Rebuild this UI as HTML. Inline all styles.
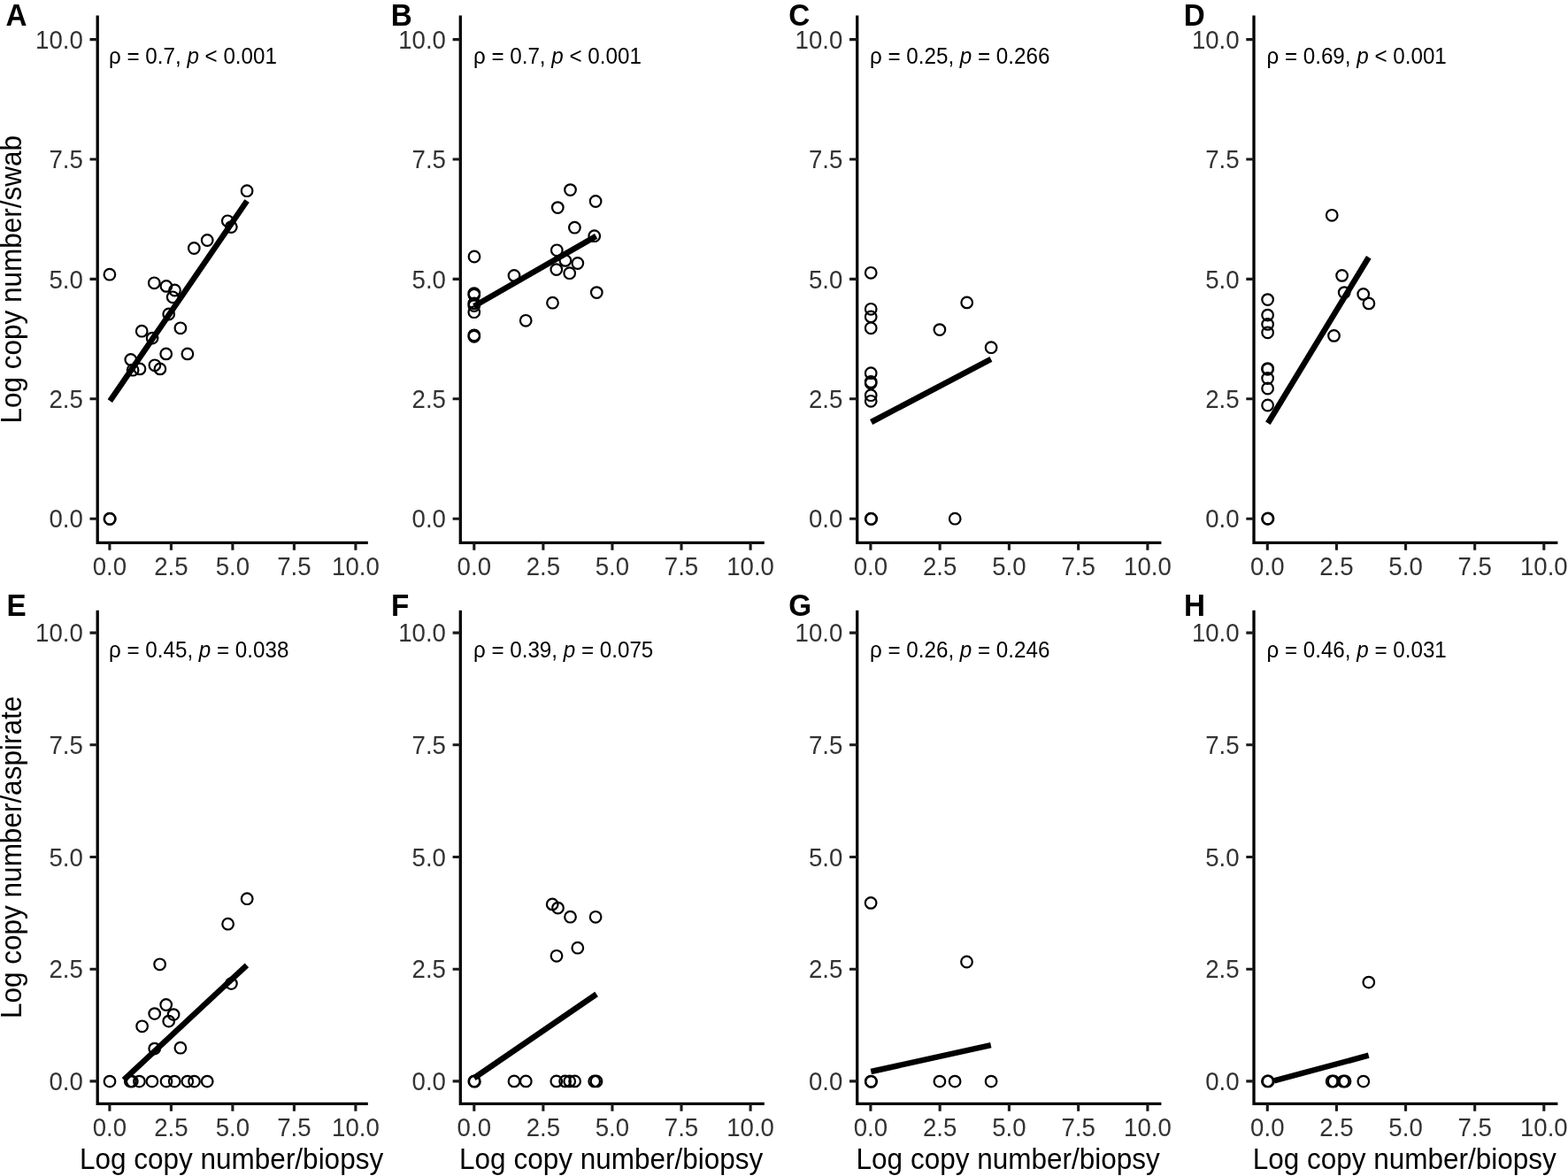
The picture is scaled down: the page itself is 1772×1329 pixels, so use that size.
<!DOCTYPE html>
<html><head><meta charset="utf-8"><title>Correlation scatter plots</title>
<style>html,body{margin:0;padding:0;background:#fff;}svg{display:block;}text{font-family:"Liberation Sans", Arial, Helvetica, sans-serif;fill:#000;}text.t{fill:#333;}</style></head><body>
<svg width="1772" height="1329" viewBox="0 0 1772 1329">
<rect width="1772" height="1329" fill="#fff"/>
<g><path d="M110.2 17.5V613.4H415.8" fill="none" stroke="#000" stroke-width="3.3" stroke-linecap="butt" stroke-linejoin="miter"/><path d="M101.5 586.2H110.2M123.9 613.4V621.8M101.5 450.8H110.2M193.4 613.4V621.8M101.5 315.4H110.2M262.9 613.4V621.8M101.5 180H110.2M332.4 613.4V621.8M101.5 44.6H110.2M401.9 613.4V621.8" stroke="#1a1a1a" stroke-width="3.1" fill="none"/><text transform="translate(93.8 596.48) scale(1 1.04)" font-size="27.6" text-anchor="end" class="t">0.0</text><text transform="translate(123.9 649.8) scale(1 1.04)" font-size="27.6" text-anchor="middle" class="t">0.0</text><text transform="translate(93.8 461.08) scale(1 1.04)" font-size="27.6" text-anchor="end" class="t">2.5</text><text transform="translate(193.4 649.8) scale(1 1.04)" font-size="27.6" text-anchor="middle" class="t">2.5</text><text transform="translate(93.8 325.68) scale(1 1.04)" font-size="27.6" text-anchor="end" class="t">5.0</text><text transform="translate(262.9 649.8) scale(1 1.04)" font-size="27.6" text-anchor="middle" class="t">5.0</text><text transform="translate(93.8 190.28) scale(1 1.04)" font-size="27.6" text-anchor="end" class="t">7.5</text><text transform="translate(332.4 649.8) scale(1 1.04)" font-size="27.6" text-anchor="middle" class="t">7.5</text><text transform="translate(93.8 54.88) scale(1 1.04)" font-size="27.6" text-anchor="end" class="t">10.0</text><text transform="translate(401.9 649.8) scale(1 1.04)" font-size="27.6" text-anchor="middle" class="t">10.0</text><g fill="none" stroke="#000" stroke-width="2.2"><circle cx="279.1" cy="215.7" r="6.3"/><circle cx="257.3" cy="249.8" r="6.3"/><circle cx="261.3" cy="256.6" r="6.3"/><circle cx="234.2" cy="271.5" r="6.3"/><circle cx="219.3" cy="280.5" r="6.3"/><circle cx="123.9" cy="310.2" r="6.3"/><circle cx="174.3" cy="319.8" r="6.3"/><circle cx="187.9" cy="323.4" r="6.3"/><circle cx="197.5" cy="328" r="6.3"/><circle cx="195.2" cy="335.8" r="6.3"/><circle cx="190.7" cy="355" r="6.3"/><circle cx="203.9" cy="370.8" r="6.3"/><circle cx="160.2" cy="374.2" r="6.3"/><circle cx="172.1" cy="382.1" r="6.3"/><circle cx="187.7" cy="399.9" r="6.3"/><circle cx="211.9" cy="399.9" r="6.3"/><circle cx="147.8" cy="406.4" r="6.3"/><circle cx="174.9" cy="412.8" r="6.3"/><circle cx="180.9" cy="416.9" r="6.3"/><circle cx="158" cy="416.9" r="6.3"/><circle cx="150.1" cy="418.2" r="6.3"/><circle cx="123.9" cy="586.2" r="6.3"/><circle cx="124.3" cy="586.5" r="6.3"/></g><path d="M124.3 453.2L279.1 227" stroke="#000" stroke-width="6.5" stroke-linecap="butt" fill="none"/><text transform="translate(123 72) scale(1 1.04)" font-size="24.2">ρ = 0.7, <tspan font-style="italic">p</tspan> &lt; 0.001</text><text transform="translate(6.6 28.9) scale(1 1.04)" font-size="33.2" font-weight="bold">A</text></g>
<g><path d="M520.3 17.5V613.4H863.8" fill="none" stroke="#000" stroke-width="3.3" stroke-linecap="butt" stroke-linejoin="miter"/><path d="M511.6 586.2H520.3M535.8 613.4V621.8M511.6 450.8H520.3M613.88 613.4V621.8M511.6 315.4H520.3M691.95 613.4V621.8M511.6 180H520.3M770.02 613.4V621.8M511.6 44.6H520.3M848.1 613.4V621.8" stroke="#1a1a1a" stroke-width="3.1" fill="none"/><text transform="translate(503.9 596.48) scale(1 1.04)" font-size="27.6" text-anchor="end" class="t">0.0</text><text transform="translate(535.8 649.8) scale(1 1.04)" font-size="27.6" text-anchor="middle" class="t">0.0</text><text transform="translate(503.9 461.08) scale(1 1.04)" font-size="27.6" text-anchor="end" class="t">2.5</text><text transform="translate(613.88 649.8) scale(1 1.04)" font-size="27.6" text-anchor="middle" class="t">2.5</text><text transform="translate(503.9 325.68) scale(1 1.04)" font-size="27.6" text-anchor="end" class="t">5.0</text><text transform="translate(691.95 649.8) scale(1 1.04)" font-size="27.6" text-anchor="middle" class="t">5.0</text><text transform="translate(503.9 190.28) scale(1 1.04)" font-size="27.6" text-anchor="end" class="t">7.5</text><text transform="translate(770.02 649.8) scale(1 1.04)" font-size="27.6" text-anchor="middle" class="t">7.5</text><text transform="translate(503.9 54.88) scale(1 1.04)" font-size="27.6" text-anchor="end" class="t">10.0</text><text transform="translate(848.1 649.8) scale(1 1.04)" font-size="27.6" text-anchor="middle" class="t">10.0</text><g fill="none" stroke="#000" stroke-width="2.2"><circle cx="644.5" cy="214.6" r="6.3"/><circle cx="673.1" cy="227.5" r="6.3"/><circle cx="630.3" cy="234.6" r="6.3"/><circle cx="649.4" cy="257.2" r="6.3"/><circle cx="671.7" cy="266.7" r="6.3"/><circle cx="536" cy="290" r="6.3"/><circle cx="629.3" cy="282.8" r="6.3"/><circle cx="638.9" cy="294.4" r="6.3"/><circle cx="652.8" cy="297.5" r="6.3"/><circle cx="628.8" cy="304.6" r="6.3"/><circle cx="643.7" cy="308.7" r="6.3"/><circle cx="581" cy="311.4" r="6.3"/><circle cx="674.3" cy="330.6" r="6.3"/><circle cx="624.5" cy="342.2" r="6.3"/><circle cx="594.2" cy="362.3" r="6.3"/><circle cx="535.8" cy="331.6" r="6.3"/><circle cx="535.8" cy="333.2" r="6.3"/><circle cx="535.8" cy="342.8" r="6.3"/><circle cx="535.8" cy="345.5" r="6.3"/><circle cx="535.8" cy="352.7" r="6.3"/><circle cx="535.8" cy="378.8" r="6.3"/><circle cx="535.8" cy="380.3" r="6.3"/></g><path d="M535.8 346L673.7 266.9" stroke="#000" stroke-width="6.5" stroke-linecap="butt" fill="none"/><text transform="translate(534.9 72) scale(1 1.04)" font-size="24.2">ρ = 0.7, <tspan font-style="italic">p</tspan> &lt; 0.001</text><text transform="translate(441.8 28.9) scale(1 1.04)" font-size="33.2" font-weight="bold">B</text></g>
<g><path d="M968.7 17.5V613.4H1312.4" fill="none" stroke="#000" stroke-width="3.3" stroke-linecap="butt" stroke-linejoin="miter"/><path d="M960 586.2H968.7M983.9 613.4V621.8M960 450.8H968.7M1062.15 613.4V621.8M960 315.4H968.7M1140.4 613.4V621.8M960 180H968.7M1218.65 613.4V621.8M960 44.6H968.7M1296.9 613.4V621.8" stroke="#1a1a1a" stroke-width="3.1" fill="none"/><text transform="translate(952.3 596.48) scale(1 1.04)" font-size="27.6" text-anchor="end" class="t">0.0</text><text transform="translate(983.9 649.8) scale(1 1.04)" font-size="27.6" text-anchor="middle" class="t">0.0</text><text transform="translate(952.3 461.08) scale(1 1.04)" font-size="27.6" text-anchor="end" class="t">2.5</text><text transform="translate(1062.15 649.8) scale(1 1.04)" font-size="27.6" text-anchor="middle" class="t">2.5</text><text transform="translate(952.3 325.68) scale(1 1.04)" font-size="27.6" text-anchor="end" class="t">5.0</text><text transform="translate(1140.4 649.8) scale(1 1.04)" font-size="27.6" text-anchor="middle" class="t">5.0</text><text transform="translate(952.3 190.28) scale(1 1.04)" font-size="27.6" text-anchor="end" class="t">7.5</text><text transform="translate(1218.65 649.8) scale(1 1.04)" font-size="27.6" text-anchor="middle" class="t">7.5</text><text transform="translate(952.3 54.88) scale(1 1.04)" font-size="27.6" text-anchor="end" class="t">10.0</text><text transform="translate(1296.9 649.8) scale(1 1.04)" font-size="27.6" text-anchor="middle" class="t">10.0</text><g fill="none" stroke="#000" stroke-width="2.2"><circle cx="984.2" cy="308.3" r="6.3"/><circle cx="984.2" cy="349.3" r="6.3"/><circle cx="984.2" cy="357.9" r="6.3"/><circle cx="984.2" cy="370.8" r="6.3"/><circle cx="1092.7" cy="341.9" r="6.3"/><circle cx="1061.9" cy="372.6" r="6.3"/><circle cx="1120.1" cy="392.7" r="6.3"/><circle cx="984.2" cy="421.7" r="6.3"/><circle cx="984.2" cy="431.5" r="6.3"/><circle cx="984.2" cy="433" r="6.3"/><circle cx="984.2" cy="446.7" r="6.3"/><circle cx="984.2" cy="453.3" r="6.3"/><circle cx="984.2" cy="586.2" r="6.3"/><circle cx="984.7" cy="586.5" r="6.3"/><circle cx="1079.2" cy="586.2" r="6.3"/></g><path d="M984.6 477L1119.9 405.8" stroke="#000" stroke-width="6.5" stroke-linecap="butt" fill="none"/><text transform="translate(983 72) scale(1 1.04)" font-size="24.2">ρ = 0.25, <tspan font-style="italic">p</tspan> = 0.266</text><text transform="translate(891.3 28.9) scale(1 1.04)" font-size="33.2" font-weight="bold">C</text></g>
<g><path d="M1417 17.5V613.4H1760.4" fill="none" stroke="#000" stroke-width="3.3" stroke-linecap="butt" stroke-linejoin="miter"/><path d="M1408.3 586.2H1417M1432.3 613.4V621.8M1408.3 450.8H1417M1510.42 613.4V621.8M1408.3 315.4H1417M1588.55 613.4V621.8M1408.3 180H1417M1666.67 613.4V621.8M1408.3 44.6H1417M1744.8 613.4V621.8" stroke="#1a1a1a" stroke-width="3.1" fill="none"/><text transform="translate(1400.6 596.48) scale(1 1.04)" font-size="27.6" text-anchor="end" class="t">0.0</text><text transform="translate(1432.3 649.8) scale(1 1.04)" font-size="27.6" text-anchor="middle" class="t">0.0</text><text transform="translate(1400.6 461.08) scale(1 1.04)" font-size="27.6" text-anchor="end" class="t">2.5</text><text transform="translate(1510.42 649.8) scale(1 1.04)" font-size="27.6" text-anchor="middle" class="t">2.5</text><text transform="translate(1400.6 325.68) scale(1 1.04)" font-size="27.6" text-anchor="end" class="t">5.0</text><text transform="translate(1588.55 649.8) scale(1 1.04)" font-size="27.6" text-anchor="middle" class="t">5.0</text><text transform="translate(1400.6 190.28) scale(1 1.04)" font-size="27.6" text-anchor="end" class="t">7.5</text><text transform="translate(1666.67 649.8) scale(1 1.04)" font-size="27.6" text-anchor="middle" class="t">7.5</text><text transform="translate(1400.6 54.88) scale(1 1.04)" font-size="27.6" text-anchor="end" class="t">10.0</text><text transform="translate(1744.8 649.8) scale(1 1.04)" font-size="27.6" text-anchor="middle" class="t">10.0</text><g fill="none" stroke="#000" stroke-width="2.2"><circle cx="1505.2" cy="243.3" r="6.3"/><circle cx="1516.6" cy="311.4" r="6.3"/><circle cx="1519.2" cy="330.6" r="6.3"/><circle cx="1540.7" cy="332.4" r="6.3"/><circle cx="1546.9" cy="342.9" r="6.3"/><circle cx="1507.5" cy="379.4" r="6.3"/><circle cx="1432.6" cy="338.6" r="6.3"/><circle cx="1432.6" cy="356.1" r="6.3"/><circle cx="1432.6" cy="366.4" r="6.3"/><circle cx="1432.6" cy="375.8" r="6.3"/><circle cx="1432.6" cy="416.6" r="6.3"/><circle cx="1432.6" cy="417.3" r="6.3"/><circle cx="1432.6" cy="427.5" r="6.3"/><circle cx="1432.6" cy="439" r="6.3"/><circle cx="1432.6" cy="458" r="6.3"/><circle cx="1432.5" cy="586.3" r="6.3"/><circle cx="1433" cy="586" r="6.3"/></g><path d="M1432.9 478.3L1546.8 290.7" stroke="#000" stroke-width="6.5" stroke-linecap="butt" fill="none"/><text transform="translate(1431.4 72) scale(1 1.04)" font-size="24.2">ρ = 0.69, <tspan font-style="italic">p</tspan> &lt; 0.001</text><text transform="translate(1337.8 28.9) scale(1 1.04)" font-size="33.2" font-weight="bold">D</text></g>
<g><path d="M110.2 689.8V1247.4H415.8" fill="none" stroke="#000" stroke-width="3.3" stroke-linecap="butt" stroke-linejoin="miter"/><path d="M101.5 1221.9H110.2M123.9 1247.4V1255.8M101.5 1095.2H110.2M193.4 1247.4V1255.8M101.5 968.5H110.2M262.9 1247.4V1255.8M101.5 841.8H110.2M332.4 1247.4V1255.8M101.5 715.1H110.2M401.9 1247.4V1255.8" stroke="#1a1a1a" stroke-width="3.1" fill="none"/><text transform="translate(93.8 1232.18) scale(1 1.04)" font-size="27.6" text-anchor="end" class="t">0.0</text><text transform="translate(123.9 1283.8) scale(1 1.04)" font-size="27.6" text-anchor="middle" class="t">0.0</text><text transform="translate(93.8 1105.48) scale(1 1.04)" font-size="27.6" text-anchor="end" class="t">2.5</text><text transform="translate(193.4 1283.8) scale(1 1.04)" font-size="27.6" text-anchor="middle" class="t">2.5</text><text transform="translate(93.8 978.78) scale(1 1.04)" font-size="27.6" text-anchor="end" class="t">5.0</text><text transform="translate(262.9 1283.8) scale(1 1.04)" font-size="27.6" text-anchor="middle" class="t">5.0</text><text transform="translate(93.8 852.08) scale(1 1.04)" font-size="27.6" text-anchor="end" class="t">7.5</text><text transform="translate(332.4 1283.8) scale(1 1.04)" font-size="27.6" text-anchor="middle" class="t">7.5</text><text transform="translate(93.8 725.38) scale(1 1.04)" font-size="27.6" text-anchor="end" class="t">10.0</text><text transform="translate(401.9 1283.8) scale(1 1.04)" font-size="27.6" text-anchor="middle" class="t">10.0</text><g fill="none" stroke="#000" stroke-width="2.2"><circle cx="279.2" cy="1015.7" r="6.3"/><circle cx="257.6" cy="1044.2" r="6.3"/><circle cx="180.6" cy="1089.8" r="6.3"/><circle cx="261.4" cy="1111.6" r="6.3"/><circle cx="187.7" cy="1135.5" r="6.3"/><circle cx="174.7" cy="1145.6" r="6.3"/><circle cx="196.1" cy="1146.6" r="6.3"/><circle cx="190.7" cy="1154.1" r="6.3"/><circle cx="160.6" cy="1159.8" r="6.3"/><circle cx="174.7" cy="1185.1" r="6.3"/><circle cx="203.9" cy="1184.2" r="6.3"/><circle cx="124" cy="1222.1" r="6.3"/><circle cx="147.3" cy="1222.1" r="6.3"/><circle cx="149.3" cy="1222.1" r="6.3"/><circle cx="157.4" cy="1222.1" r="6.3"/><circle cx="171.9" cy="1222.1" r="6.3"/><circle cx="188" cy="1222.1" r="6.3"/><circle cx="197.2" cy="1222.1" r="6.3"/><circle cx="211.8" cy="1222.1" r="6.3"/><circle cx="219.5" cy="1222.1" r="6.3"/><circle cx="234.2" cy="1222.1" r="6.3"/></g><path d="M139.9 1220.3L278.9 1090.8" stroke="#000" stroke-width="6.5" stroke-linecap="butt" fill="none"/><text transform="translate(123 742.5) scale(1 1.04)" font-size="24.2">ρ = 0.45, <tspan font-style="italic">p</tspan> = 0.038</text><text transform="translate(7.6 695.9) scale(1 1.04)" font-size="33.2" font-weight="bold">E</text></g>
<g><path d="M520.3 689.8V1247.4H863.8" fill="none" stroke="#000" stroke-width="3.3" stroke-linecap="butt" stroke-linejoin="miter"/><path d="M511.6 1221.9H520.3M535.8 1247.4V1255.8M511.6 1095.2H520.3M613.88 1247.4V1255.8M511.6 968.5H520.3M691.95 1247.4V1255.8M511.6 841.8H520.3M770.02 1247.4V1255.8M511.6 715.1H520.3M848.1 1247.4V1255.8" stroke="#1a1a1a" stroke-width="3.1" fill="none"/><text transform="translate(503.9 1232.18) scale(1 1.04)" font-size="27.6" text-anchor="end" class="t">0.0</text><text transform="translate(535.8 1283.8) scale(1 1.04)" font-size="27.6" text-anchor="middle" class="t">0.0</text><text transform="translate(503.9 1105.48) scale(1 1.04)" font-size="27.6" text-anchor="end" class="t">2.5</text><text transform="translate(613.88 1283.8) scale(1 1.04)" font-size="27.6" text-anchor="middle" class="t">2.5</text><text transform="translate(503.9 978.78) scale(1 1.04)" font-size="27.6" text-anchor="end" class="t">5.0</text><text transform="translate(691.95 1283.8) scale(1 1.04)" font-size="27.6" text-anchor="middle" class="t">5.0</text><text transform="translate(503.9 852.08) scale(1 1.04)" font-size="27.6" text-anchor="end" class="t">7.5</text><text transform="translate(770.02 1283.8) scale(1 1.04)" font-size="27.6" text-anchor="middle" class="t">7.5</text><text transform="translate(503.9 725.38) scale(1 1.04)" font-size="27.6" text-anchor="end" class="t">10.0</text><text transform="translate(848.1 1283.8) scale(1 1.04)" font-size="27.6" text-anchor="middle" class="t">10.0</text><g fill="none" stroke="#000" stroke-width="2.2"><circle cx="624.2" cy="1021.9" r="6.3"/><circle cx="630.5" cy="1026.1" r="6.3"/><circle cx="644.5" cy="1036.2" r="6.3"/><circle cx="673.1" cy="1036.3" r="6.3"/><circle cx="652.8" cy="1071.2" r="6.3"/><circle cx="629" cy="1080.3" r="6.3"/><circle cx="535.8" cy="1221.9" r="6.3"/><circle cx="536.4" cy="1222.2" r="6.3"/><circle cx="581" cy="1221.9" r="6.3"/><circle cx="594.3" cy="1221.9" r="6.3"/><circle cx="628.8" cy="1221.9" r="6.3"/><circle cx="638.6" cy="1221.9" r="6.3"/><circle cx="643.7" cy="1221.9" r="6.3"/><circle cx="649.6" cy="1221.9" r="6.3"/><circle cx="671.7" cy="1221.9" r="6.3"/><circle cx="674" cy="1221.9" r="6.3"/></g><path d="M535.8 1218.3L674.1 1123.5" stroke="#000" stroke-width="6.5" stroke-linecap="butt" fill="none"/><text transform="translate(534.9 742.5) scale(1 1.04)" font-size="24.2">ρ = 0.39, <tspan font-style="italic">p</tspan> = 0.075</text><text transform="translate(441.9 695.9) scale(1 1.04)" font-size="33.2" font-weight="bold">F</text></g>
<g><path d="M968.7 689.8V1247.4H1312.4" fill="none" stroke="#000" stroke-width="3.3" stroke-linecap="butt" stroke-linejoin="miter"/><path d="M960 1221.9H968.7M983.9 1247.4V1255.8M960 1095.2H968.7M1062.15 1247.4V1255.8M960 968.5H968.7M1140.4 1247.4V1255.8M960 841.8H968.7M1218.65 1247.4V1255.8M960 715.1H968.7M1296.9 1247.4V1255.8" stroke="#1a1a1a" stroke-width="3.1" fill="none"/><text transform="translate(952.3 1232.18) scale(1 1.04)" font-size="27.6" text-anchor="end" class="t">0.0</text><text transform="translate(983.9 1283.8) scale(1 1.04)" font-size="27.6" text-anchor="middle" class="t">0.0</text><text transform="translate(952.3 1105.48) scale(1 1.04)" font-size="27.6" text-anchor="end" class="t">2.5</text><text transform="translate(1062.15 1283.8) scale(1 1.04)" font-size="27.6" text-anchor="middle" class="t">2.5</text><text transform="translate(952.3 978.78) scale(1 1.04)" font-size="27.6" text-anchor="end" class="t">5.0</text><text transform="translate(1140.4 1283.8) scale(1 1.04)" font-size="27.6" text-anchor="middle" class="t">5.0</text><text transform="translate(952.3 852.08) scale(1 1.04)" font-size="27.6" text-anchor="end" class="t">7.5</text><text transform="translate(1218.65 1283.8) scale(1 1.04)" font-size="27.6" text-anchor="middle" class="t">7.5</text><text transform="translate(952.3 725.38) scale(1 1.04)" font-size="27.6" text-anchor="end" class="t">10.0</text><text transform="translate(1296.9 1283.8) scale(1 1.04)" font-size="27.6" text-anchor="middle" class="t">10.0</text><g fill="none" stroke="#000" stroke-width="2.2"><circle cx="984.1" cy="1020.4" r="6.3"/><circle cx="1092.5" cy="1087" r="6.3"/><circle cx="984.2" cy="1222.1" r="6.3"/><circle cx="984.6" cy="1222.4" r="6.3"/><circle cx="1061.9" cy="1222.1" r="6.3"/><circle cx="1079.1" cy="1222.1" r="6.3"/><circle cx="1120.1" cy="1222.1" r="6.3"/></g><path d="M984.3 1211L1119.8 1181.1" stroke="#000" stroke-width="6.5" stroke-linecap="butt" fill="none"/><text transform="translate(983 742.5) scale(1 1.04)" font-size="24.2">ρ = 0.26, <tspan font-style="italic">p</tspan> = 0.246</text><text transform="translate(891.3 695.9) scale(1 1.04)" font-size="33.2" font-weight="bold">G</text></g>
<g><path d="M1417 689.8V1247.4H1760.4" fill="none" stroke="#000" stroke-width="3.3" stroke-linecap="butt" stroke-linejoin="miter"/><path d="M1408.3 1221.9H1417M1432.3 1247.4V1255.8M1408.3 1095.2H1417M1510.42 1247.4V1255.8M1408.3 968.5H1417M1588.55 1247.4V1255.8M1408.3 841.8H1417M1666.67 1247.4V1255.8M1408.3 715.1H1417M1744.8 1247.4V1255.8" stroke="#1a1a1a" stroke-width="3.1" fill="none"/><text transform="translate(1400.6 1232.18) scale(1 1.04)" font-size="27.6" text-anchor="end" class="t">0.0</text><text transform="translate(1432.3 1283.8) scale(1 1.04)" font-size="27.6" text-anchor="middle" class="t">0.0</text><text transform="translate(1400.6 1105.48) scale(1 1.04)" font-size="27.6" text-anchor="end" class="t">2.5</text><text transform="translate(1510.42 1283.8) scale(1 1.04)" font-size="27.6" text-anchor="middle" class="t">2.5</text><text transform="translate(1400.6 978.78) scale(1 1.04)" font-size="27.6" text-anchor="end" class="t">5.0</text><text transform="translate(1588.55 1283.8) scale(1 1.04)" font-size="27.6" text-anchor="middle" class="t">5.0</text><text transform="translate(1400.6 852.08) scale(1 1.04)" font-size="27.6" text-anchor="end" class="t">7.5</text><text transform="translate(1666.67 1283.8) scale(1 1.04)" font-size="27.6" text-anchor="middle" class="t">7.5</text><text transform="translate(1400.6 725.38) scale(1 1.04)" font-size="27.6" text-anchor="end" class="t">10.0</text><text transform="translate(1744.8 1283.8) scale(1 1.04)" font-size="27.6" text-anchor="middle" class="t">10.0</text><g fill="none" stroke="#000" stroke-width="2.2"><circle cx="1546.8" cy="1110.1" r="6.3"/><circle cx="1432.4" cy="1221.9" r="6.3"/><circle cx="1433.2" cy="1221.9" r="6.3"/><circle cx="1505.2" cy="1222" r="6.3"/><circle cx="1507.2" cy="1222" r="6.3"/><circle cx="1518" cy="1222" r="6.3"/><circle cx="1520" cy="1222" r="6.3"/><circle cx="1540.8" cy="1222.1" r="6.3"/></g><path d="M1439.8 1221.4L1546.7 1192.7" stroke="#000" stroke-width="6.5" stroke-linecap="butt" fill="none"/><text transform="translate(1431.4 742.5) scale(1 1.04)" font-size="24.2">ρ = 0.46, <tspan font-style="italic">p</tspan> = 0.031</text><text transform="translate(1337.9 695.9) scale(1 1.04)" font-size="33.2" font-weight="bold">H</text></g>
<text transform="translate(261.6 1321.2) scale(1 1.04)" font-size="31.5" text-anchor="middle">Log copy number/biopsy</text>
<text transform="translate(690.65 1321.2) scale(1 1.04)" font-size="31.5" text-anchor="middle">Log copy number/biopsy</text>
<text transform="translate(1139.15 1321.2) scale(1 1.04)" font-size="31.5" text-anchor="middle">Log copy number/biopsy</text>
<text transform="translate(1587.3 1321.2) scale(1 1.04)" font-size="31.5" text-anchor="middle">Log copy number/biopsy</text>
<text transform="translate(24.1 315.75) rotate(-90) scale(1 1.04)" font-size="31.5" text-anchor="middle">Log copy number/swab</text>
<text transform="translate(24.1 968.9) rotate(-90) scale(1 1.04)" font-size="31.5" text-anchor="middle">Log copy number/aspirate</text>
</svg></body></html>
